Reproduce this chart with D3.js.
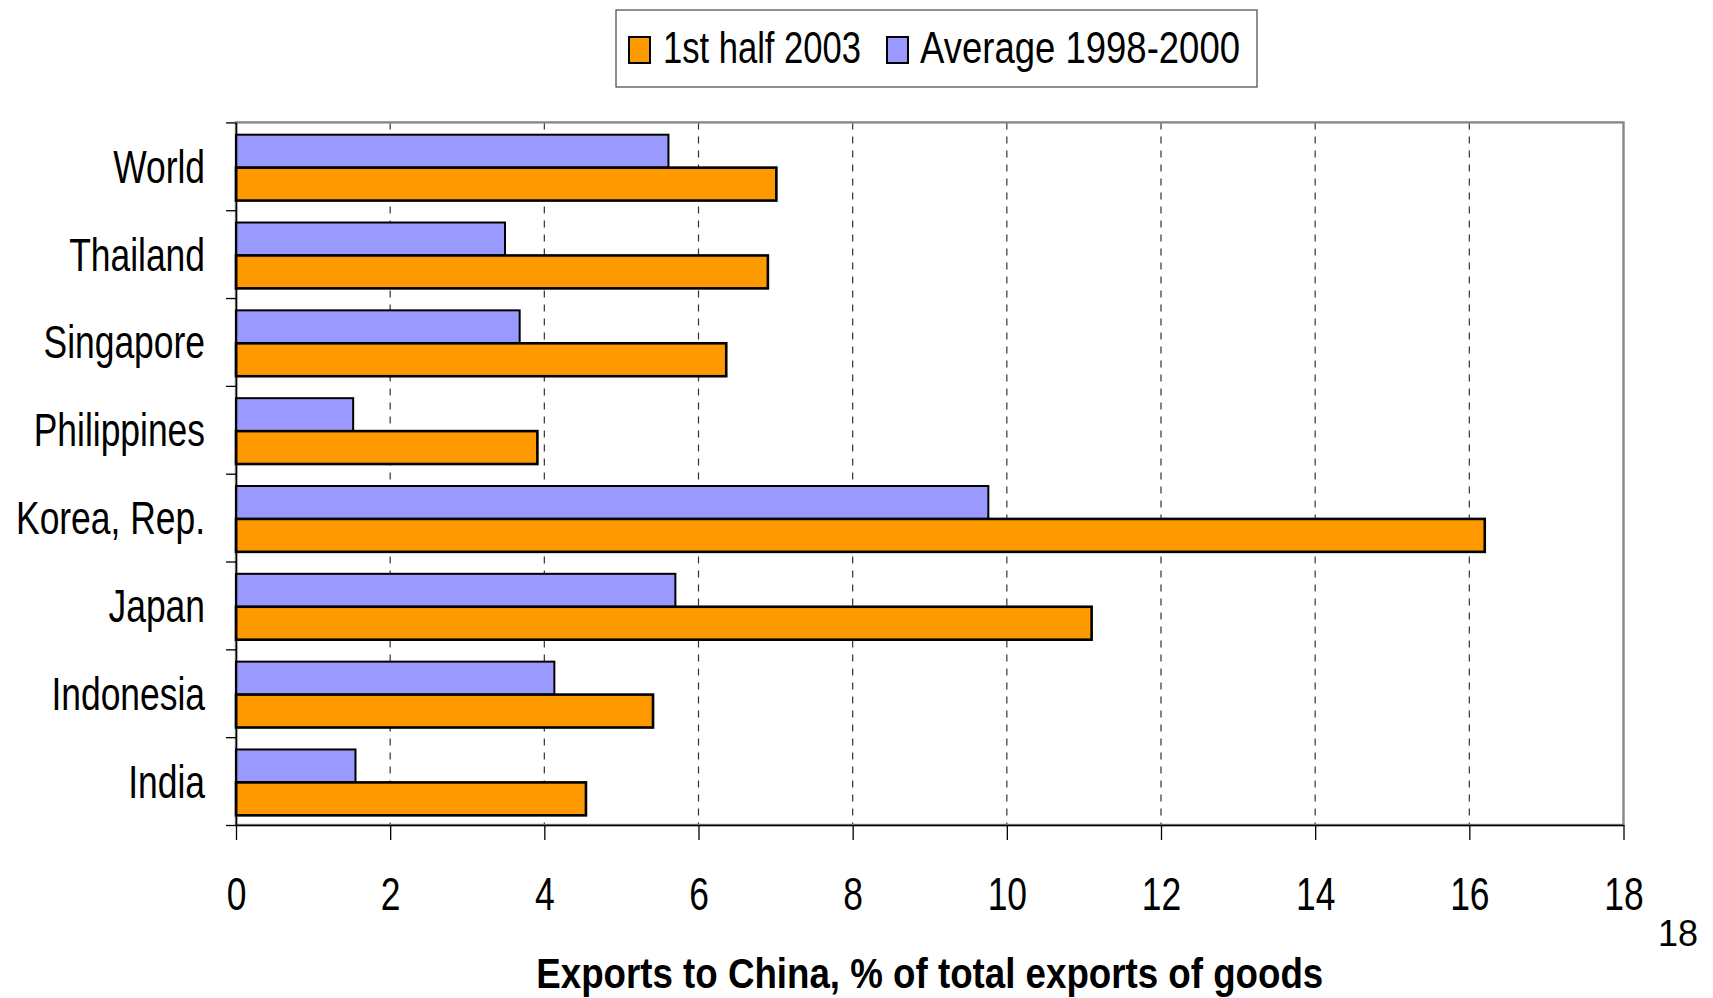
<!DOCTYPE html>
<html>
<head>
<meta charset="utf-8">
<script src="https://cdn.jsdelivr.net/npm/d3@7"></script>
<style>
  html, body { margin: 0; padding: 0; background: #fff; }
  svg { display: block; font-family: "Liberation Sans", Arial, sans-serif; }
</style>
</head>
<body>
<svg id="chart" width="1713" height="998"></svg>
<script>
// Exports to China as % of total exports of goods
const categories = ["World", "Thailand", "Singapore", "Philippines", "Korea, Rep.", "Japan", "Indonesia", "India"];
const seriesNames = ["1st half 2003", "Average 1998-2000"];
const firstHalf2003 = [7.01, 6.90, 6.36, 3.91, 16.20, 11.10, 5.41, 4.54];
const average1998to2000 = [5.61, 3.49, 3.68, 1.52, 9.76, 5.70, 4.13, 1.55];
const xTicks = [0, 2, 4, 6, 8, 10, 12, 14, 16, 18];
const axisTitle = "Exports to China, % of total exports of goods";
const pageNumber = "18";

const colors = { recent: "#FF9900", average: "#9999FF" };

const svg = d3.select("#chart");
const plot = { left: 236, right: 1623.5, top: 122.4, bottom: 825 };

const x = d3.scaleLinear().domain([0, 18]).range([plot.left, plot.right]);
const y = d3.scaleBand().domain(categories).range([plot.top, plot.bottom]).padding(0);
const bw = y.bandwidth();

// dashed vertical gridlines
svg.append("g")
  .selectAll("line")
  .data(xTicks.filter(d => d > 0 && d < 18))
  .join("line")
  .attr("x1", d => x(d)).attr("x2", d => x(d))
  .attr("y1", plot.top).attr("y2", plot.bottom)
  .attr("stroke", "#333").attr("stroke-width", 1.2)
  .attr("stroke-dasharray", "7,7");

// plot frame (grey)
svg.append("rect")
  .attr("x", plot.left).attr("y", plot.top)
  .attr("width", plot.right - plot.left).attr("height", plot.bottom - plot.top)
  .attr("fill", "none").attr("stroke", "#888").attr("stroke-width", 2.4);

// bars: average (upper) and 1st half 2003 (lower) within each band
const rows = categories.map((c, i) => ({ c, recent: firstHalf2003[i], avg: average1998to2000[i] }));

svg.append("g").selectAll("rect")
  .data(rows).join("rect")
  .attr("x", x(0))
  .attr("y", d => y(d.c) + bw * 0.14)
  .attr("width", d => x(d.avg) - x(0))
  .attr("height", bw * 0.375)
  .attr("fill", colors.average)
  .attr("stroke", "#000").attr("stroke-width", 2);

svg.append("g").selectAll("rect")
  .data(rows).join("rect")
  .attr("x", x(0))
  .attr("y", d => y(d.c) + bw * 0.515)
  .attr("width", d => x(d.recent) - x(0))
  .attr("height", bw * 0.375)
  .attr("fill", colors.recent)
  .attr("stroke", "#000").attr("stroke-width", 2.6);

// left axis: ticks at category boundaries
const edges = d3.scaleLinear().domain([0, categories.length]).range([plot.top, plot.bottom]);
const yAxis = svg.append("g")
  .attr("transform", `translate(${plot.left},0)`)
  .call(d3.axisLeft(edges).ticks(categories.length).tickFormat("").tickSize(10).tickSizeOuter(0));
yAxis.select(".domain").attr("stroke", "#000").attr("stroke-width", 1.5);
yAxis.selectAll(".tick line").attr("stroke", "#000").attr("stroke-width", 1.3);

// category labels (condensed)
svg.append("g").selectAll("text")
  .data(categories).join("text")
  .attr("transform", d => `translate(205,${y(d) + bw / 2 + 16.5}) scale(0.77,1)`)
  .attr("text-anchor", "end")
  .attr("font-size", 46)
  .attr("fill", "#000")
  .text(d => d);

// bottom axis
const xAxis = svg.append("g")
  .attr("transform", `translate(0,${plot.bottom})`)
  .call(d3.axisBottom(x).tickValues(xTicks).tickFormat(d => String(d)).tickSize(15).tickSizeOuter(0));
xAxis.select(".domain").attr("stroke", "#000").attr("stroke-width", 1.5);
xAxis.selectAll(".tick line").attr("stroke", "#000").attr("stroke-width", 1.3);
xAxis.selectAll(".tick text")
  .attr("y", 85).attr("dy", 0)
  .attr("font-size", 46)
  .attr("font-family", "Liberation Sans, Arial, sans-serif")
  .attr("fill", "#000")
  .attr("transform", "scale(0.77,1)");

// axis title
svg.append("text")
  .attr("x", (plot.left + plot.right) / 2)
  .attr("y", 988)
  .attr("text-anchor", "middle")
  .attr("font-size", 43)
  .attr("font-weight", "bold")
  .attr("textLength", 787)
  .attr("lengthAdjust", "spacingAndGlyphs")
  .attr("fill", "#000")
  .text(axisTitle);

// page number
svg.append("text")
  .attr("x", 1658).attr("y", 946)
  .attr("font-size", 36)
  .attr("fill", "#000")
  .text(pageNumber);

// legend
const legend = svg.append("g");
legend.append("rect")
  .attr("x", 616).attr("y", 10).attr("width", 641).attr("height", 77)
  .attr("fill", "#fff").attr("stroke", "#444").attr("stroke-width", 1.2);

const legendItems = [
  { name: seriesNames[0], color: colors.recent, sx: 629, tx: 663, tw: 198 },
  { name: seriesNames[1], color: colors.average, sx: 887, tx: 920, tw: 320 }
];
legend.selectAll("rect.sw").data(legendItems).join("rect")
  .attr("class", "sw")
  .attr("x", d => d.sx).attr("y", 37).attr("width", 21).attr("height", 26)
  .attr("fill", d => d.color).attr("stroke", "#000").attr("stroke-width", 2);
legend.selectAll("text").data(legendItems).join("text")
  .attr("x", d => d.tx).attr("y", 63)
  .attr("font-size", 44)
  .attr("textLength", d => d.tw)
  .attr("lengthAdjust", "spacingAndGlyphs")
  .attr("fill", "#000")
  .text(d => d.name);
</script>
</body>
</html>
